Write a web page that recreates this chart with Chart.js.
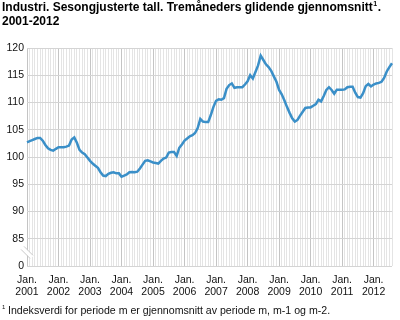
<!DOCTYPE html>
<html>
<head>
<meta charset="utf-8">
<script src="https://cdn.jsdelivr.net/npm/chart.js@4"></script>
<style>
html,body{margin:0;padding:0;background:#fff;}
#wrap{position:relative;width:400px;height:320px;}
</style>
</head>
<body>
<div id="wrap"><canvas id="c" width="400" height="320"></canvas></div>
<script>
const titleLines = ["Industri. Sesongjusterte tall. Tremåneders glidende gjennomsnitt", "2001-2012"];
const footnote = "Indeksverdi for periode m er gjennomsnitt av periode m, m-1 og m-2.";
const years = [2001,2002,2003,2004,2005,2006,2007,2008,2009,2010,2011,2012];
const monthsInLastYear = 8;
const yTicks = [0,85,90,95,100,105,110,115,120];
const index = [
102.7,102.9,103.1,103.3,103.5,103.5,103.0,102.2,101.6,101.3,101.15,101.5,
101.8,101.8,101.8,101.9,102.1,103.2,103.6,102.6,101.3,100.8,100.5,99.9,
99.3,98.8,98.4,98.0,97.2,96.6,96.5,96.9,97.1,97.2,97.0,97.0,
96.4,96.6,96.8,97.2,97.25,97.2,97.3,97.9,98.6,99.3,99.4,99.2,
99.0,98.9,98.8,99.3,99.7,99.9,100.8,100.9,100.9,100.2,101.7,102.3,
103.0,103.4,103.8,104.0,104.4,105.3,107.0,106.5,106.4,106.4,107.7,109.2,
110.3,110.6,110.5,110.8,112.5,113.2,113.5,112.7,112.8,112.8,112.8,113.3,
113.9,115.0,114.4,115.6,116.8,118.6,117.8,117.0,116.5,115.8,114.8,113.8,
112.3,111.5,110.4,109.2,108.1,107.1,106.5,106.8,107.6,108.3,109.0,109.1,
109.1,109.4,109.7,110.5,110.2,111.2,112.3,112.8,112.3,111.6,112.35,112.35,
112.35,112.4,112.8,112.9,112.9,111.8,111.0,110.9,111.7,113.0,113.4,112.95,
113.3,113.5,113.6,113.8,114.5,115.7,116.5,117.2
];

// month labels
const labels = [];
years.forEach((y,i)=>{
  const n = (i===years.length-1)?monthsInLastYear:12;
  for(let m=0;m<n;m++) labels.push(m===0?["Jan.",String(y)]:"");
});

const AXIS_BREAK_VALUE = 80; // position of "0" on the broken axis
const FONT = '"Liberation Sans", Arial, sans-serif';

const textPlugin = {
  id:'texts',
  afterDraw(chart){
    const ctx = chart.ctx;
    ctx.save();
    ctx.fillStyle = '#000';
    ctx.textBaseline = 'alphabetic';
    ctx.font = 'bold 12px ' + FONT;
    ctx.fillText(titleLines[0], 2, 11);
    let w = ctx.measureText(titleLines[0]).width;
    ctx.font = 'bold 7px ' + FONT;
    ctx.fillText('1', 2+w+0.5, 6);
    let w2 = ctx.measureText('1').width;
    ctx.font = 'bold 12px ' + FONT;
    ctx.fillText('.', 2+w+w2+1, 11);
    ctx.fillText(titleLines[1], 2, 25);
    // footnote
    ctx.fillStyle = '#111';
    ctx.font = '6px ' + FONT;
    ctx.fillText('1', 2, 309);
    ctx.font = '10.6px ' + FONT;
    ctx.fillText(footnote, 8, 314);
    // axis break
    const a = chart.chartArea;
    const yb = chart.scales.y.getPixelForValue(82.5);
    const x0 = a.left;
    ctx.strokeStyle = '#fff';
    ctx.lineWidth = 4;
    ctx.beginPath(); ctx.moveTo(x0-5, yb-5); ctx.lineTo(x0+5, yb+5); ctx.stroke();
    ctx.strokeStyle = '#c8c8c8';
    ctx.lineWidth = 1;
    ctx.beginPath(); ctx.moveTo(x0-6, yb-3); ctx.lineTo(x0+3, yb+6); ctx.stroke();
    ctx.beginPath(); ctx.moveTo(x0-3, yb-6); ctx.lineTo(x0+6, yb+3); ctx.stroke();
    ctx.restore();
  }
};

new Chart(document.getElementById('c'), {
  type:'line',
  data:{labels, datasets:[{data:index, borderColor:'#3a8fc8', borderWidth:2.5, pointRadius:0, tension:0, fill:false}]},
  options:{
    responsive:false, animation:false,
    layout:{padding:{left:0,right:4,top:48,bottom:14}},
    plugins:{legend:{display:false}, title:{display:false}, tooltip:{enabled:false}},
    scales:{
      x:{type:'category', offset:false,
        grid:{drawTicks:false, color:(c)=> (c.index%12===0)?'#c4c4c4':'#e4e4e4', lineWidth:1},
        border:{display:false},
        ticks:{autoSkip:false, maxRotation:0, minRotation:0, padding:8, color:'#111',
          font:{family:FONT, size:10.5, lineHeight:1.15}},
        afterFit(s){ s.height = 40; }
      },
      y:{type:'linear', min:AXIS_BREAK_VALUE, max:120,
        afterBuildTicks(s){ s.ticks = yTicks.map(v=>({value: v===0?AXIS_BREAK_VALUE:v})); },
        grid:{drawTicks:false, color:'#d4d4d4', lineWidth:1},
        border:{display:false},
        ticks:{padding:3, color:'#111', font:{family:FONT, size:10.5},
          callback:(v)=> v===AXIS_BREAK_VALUE ? '0' : String(v)},
        afterFit(s){ s.width = 27; }
      }
    }
  },
  plugins:[textPlugin]
});
</script>
</body>
</html>
